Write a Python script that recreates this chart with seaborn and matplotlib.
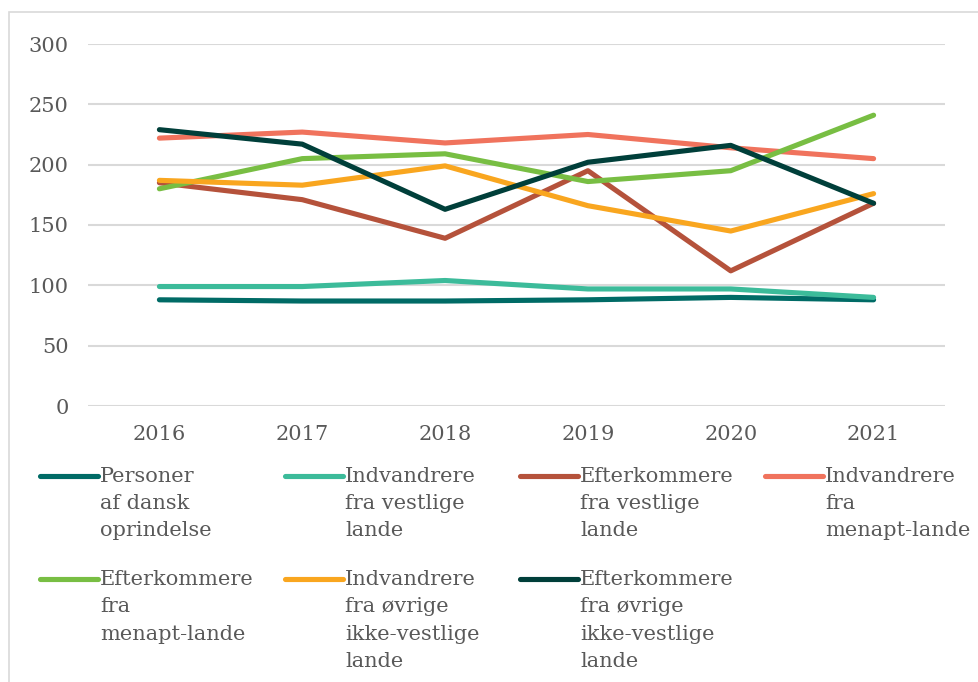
import matplotlib.pyplot as plt
import pandas as pd
import seaborn as sns
from matplotlib.lines import Line2D
from matplotlib.patches import Rectangle

years = ["2016", "2017", "2018", "2019", "2020", "2021"]

series_names = [
    "Personer\naf dansk\noprindelse",
    "Indvandrere\nfra vestlige\nlande",
    "Efterkommere\nfra vestlige\nlande",
    "Indvandrere\nfra\nmenapt-lande",
    "Efterkommere\nfra\nmenapt-lande",
    "Indvandrere\nfra øvrige\nikke-vestlige\nlande",
    "Efterkommere\nfra øvrige\nikke-vestlige\nlande",
]

dansk = [88, 87, 87, 88, 90, 88]
indv_vest = [99, 99, 104, 97, 97, 90]
efterk_vest = [185, 171, 139, 195, 112, 168]
indv_menapt = [222, 227, 218, 225, 214, 205]
efterk_menapt = [180, 205, 209, 186, 195, 241]
indv_ovrige = [187, 183, 199, 166, 145, 176]
efterk_ovrige = [229, 217, 163, 202, 216, 168]

colors = ["#006B66", "#3CBB9A", "#B5523B", "#F0735D", "#78BE43", "#F9A61F", "#003F3A"]

all_values = [dansk, indv_vest, efterk_vest, indv_menapt, efterk_menapt, indv_ovrige, efterk_ovrige]
rows = []
for name, vals in zip(series_names, all_values):
    for yr, v in zip(years, vals):
        rows.append({"year": yr, "value": v, "group": name})
df = pd.DataFrame(rows)

sns.set_style("white")
plt.rcParams["font.family"] = ["DejaVu Serif"]
text_color = "#595959"
W, H = 979, 682

fig = plt.figure(figsize=(9.79, 6.82), dpi=100)
ax = fig.add_axes([88 / W, 1 - 406 / H, 857 / W, 362 / H])

sns.lineplot(data=df, x="year", y="value", hue="group", palette=colors,
             linewidth=3.7, sort=False, ax=ax, legend=False)

ax.set_ylim(0, 300)
ax.set_xlim(-0.5, 5.5)
ax.set_yticks(range(0, 301, 50))
ax.grid(axis="y", color="#D9D9D9", linewidth=1.5)
ax.grid(axis="x", visible=False)
ax.set_axisbelow(True)
for s in ax.spines.values():
    s.set_visible(False)
ax.set_xlabel("")
ax.set_ylabel("")
ax.tick_params(axis="both", length=0, labelsize=15, labelcolor=text_color)
ax.tick_params(axis="y", pad=14)
ax.tick_params(axis="x", pad=14)

# legend laid out like the original: 4 columns, handle beside first line
col_px = [40, 285, 520, 765]
row_px = [476, 579]
for i, (name, col) in enumerate(zip(series_names, colors)):
    x0 = col_px[i % 4]
    y0 = row_px[i // 4]
    fig.add_artist(Line2D([x0 / W, (x0 + 58) / W], [1 - y0 / H, 1 - y0 / H],
                          transform=fig.transFigure, color=col, linewidth=3.7,
                          solid_capstyle="round"))
    fig.text((x0 + 60) / W, 1 - (y0 - 9) / H, name, ha="left", va="top",
             fontsize=15, color=text_color, linespacing=1.55)

# outer chart frame
fig.add_artist(Rectangle((9 / W, -0.1), 1.2, 1 - 12 / H + 0.1,
                         transform=fig.transFigure, fill=False,
                         edgecolor="#D9D9D9", linewidth=1.2))

fig.savefig("out.png", dpi=100)
